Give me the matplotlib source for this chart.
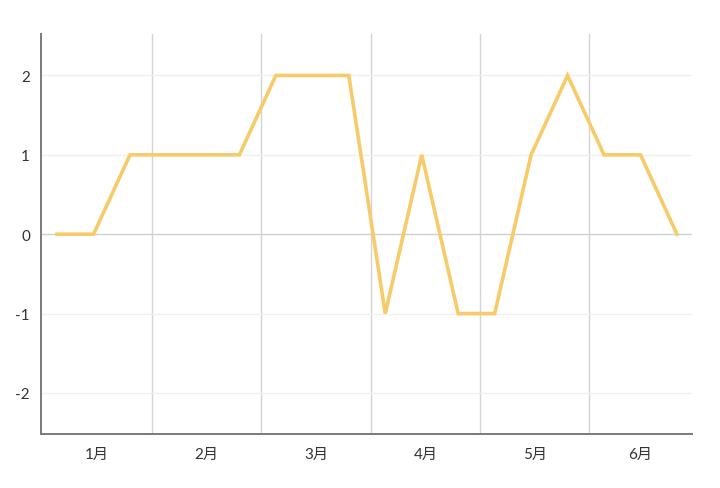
import matplotlib.pyplot as plt
import numpy as np

# 每月三個點
months = ["1月", "2月", "3月", "4月", "5月", "6月"]
values = [0, 0, 1, 1, 1, 1, 2, 2, 2, -1, 1, -1, -1, 1, 2, 1, 1, 0]
y_ticks = [-2, -1, 0, 1, 2]

plt.rcParams['font.family'] = ['Lato', 'Noto Sans CJK SC', 'DejaVu Sans']

fig = plt.figure(figsize=(7.2, 4.89), dpi=100)
ax = fig.add_axes([0.057, 0.110, 0.904, 0.818])

x = np.arange(len(values))
ax.plot(x, values, color='#F7CB6A', linewidth=2.6, solid_joinstyle='miter', zorder=3)

# 月份分隔線與標籤
n_per = 3
edges = [-0.4 + n_per * k for k in range(len(months) + 1)]
for e in edges[1:-1]:
    ax.axvline(e, color='#d4d4d4', linewidth=1, zorder=1)
centers = [1.1 + n_per * k for k in range(len(months))]
centers[-1] = 16.0
ax.set_xticks(centers)
ax.set_xticklabels(months)

ax.set_yticks(y_ticks)
ax.set_yticklabels([str(v) for v in y_ticks])
for v in y_ticks:
    ax.axhline(v, color='#d0d0d0' if v == 0 else '#f0f0f0', linewidth=1, zorder=1)

ax.set_xlim(-0.44, 17.41)
ax.set_ylim(-2.52, 2.52)

ax.tick_params(length=0, labelsize=11, colors='#333333')
ax.tick_params(axis='x', pad=9)
ax.tick_params(axis='y', pad=8)
for s in ['top', 'right']:
    ax.spines[s].set_visible(False)
for s in ['left', 'bottom']:
    ax.spines[s].set_color('#7a7a7a')
    ax.spines[s].set_linewidth(1.4)

fig.savefig('out.png', dpi=100)
